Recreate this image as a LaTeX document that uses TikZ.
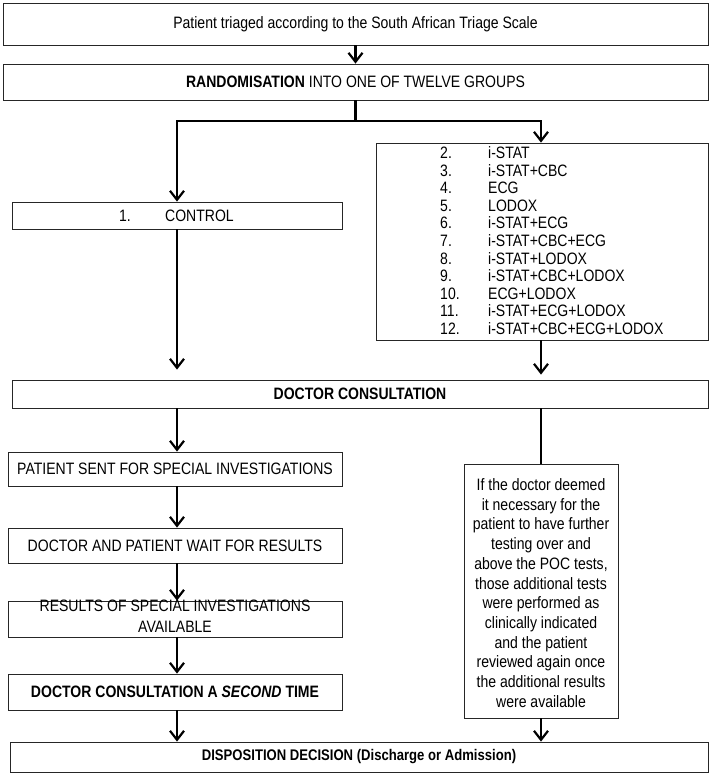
\documentclass[tikz,border=0pt]{standalone}
\usepackage{fontspec}
\setmainfont{Liberation Sans}[FakeStretch=0.85]
\usetikzlibrary{arrows.meta}
\begin{document}
\begin{tikzpicture}[x=1pt,y=-1pt,
  box/.style={draw=black!85, line width=0.8pt, inner sep=0pt, align=center},
  arr/.style={line width=2.4pt, -{Straight Barb[length=9pt,width=14pt,line width=2.2pt]}},
  ln/.style={line width=2.4pt},
  font=\fontsize{16.5}{19}\selectfont]
\useasboundingbox (0,0) rectangle (711,778);

\node[box, minimum width=705pt, minimum height=42pt] (triage) at (355.5,24) {Patient triaged according to the South African Triage Scale};
\node[box, minimum width=705pt, minimum height=36pt] (rand) at (355.5,82) {\textbf{RANDOMISATION} INTO ONE OF TWELVE GROUPS};
\node[box, minimum width=330pt, minimum height=27pt] (ctrl) at (177,215.5) {};
\node[anchor=base west, inner sep=0pt] (ctrlnum) at (119,221.5) {1.};
\node[anchor=base west, inner sep=0pt] (ctrltxt) at (165,221.5) {CONTROL};
\node[box, minimum width=332pt, minimum height=197pt] (list) at (542,241.5) {};
\node[inner sep=0pt, anchor=north west] (listtxt) at (440,146) {\fontsize{16.5}{17.6}\selectfont
  \begin{tabular}{@{}p{48pt}@{}l@{}}
  2. & i-STAT\\
  3. & i-STAT+CBC\\
  4. & ECG\\
  5. & LODOX\\
  6. & i-STAT+ECG\\
  7. & i-STAT+CBC+ECG\\
  8. & i-STAT+LODOX\\
  9. & i-STAT+CBC+LODOX\\
  10. & ECG+LODOX\\
  11. & i-STAT+ECG+LODOX\\
  12. & i-STAT+CBC+ECG+LODOX
  \end{tabular}};
\node[box, minimum width=696pt, minimum height=28pt] (consult) at (360,394) {\textbf{DOCTOR CONSULTATION}};
\node[box, minimum width=334pt, minimum height=34pt] (sent) at (175,469) {PATIENT SENT FOR SPECIAL INVESTIGATIONS};
\node[box, minimum width=334pt, minimum height=35pt] (wait) at (175,545.5) {DOCTOR AND PATIENT WAIT FOR RESULTS};
\node[box, minimum width=334pt, minimum height=36pt] (results) at (175,619) {};
\node[align=center, inner sep=0pt, font=\fontsize{16.5}{21}\selectfont] (restxt) at (175,616) {RESULTS OF SPECIAL INVESTIGATIONS\\AVAILABLE};
\node[box, minimum width=334pt, minimum height=36pt] (second) at (175,692) {\textbf{DOCTOR CONSULTATION A \textit{SECOND} TIME}};
\node[box, minimum width=698pt, minimum height=30pt, font=\fontsize{15.4}{18}\selectfont] (dispo) at (359,757) {\textbf{DISPOSITION DECISION (Discharge or Admission)}};
\node[box, minimum width=154pt, minimum height=254pt] (note) at (541,591) {};
\node[align=center, inner sep=0pt, font=\fontsize{16.5}{19.7}\selectfont] (notetxt) at (541,593) {If the doctor deemed\\it necessary for the\\patient to have further\\testing over and\\above the POC tests,\\those additional tests\\were performed as\\clinically indicated\\and the patient\\reviewed again once\\the additional results\\were available};

\coordinate (sl) at (177,121);
\coordinate (sr) at (541,121);
\draw[arr] (triage.south) -- (rand.north);
\draw[arr] (rand.south) |- (sl) -- (ctrl.north -| sl);
\draw[arr] (rand.south) |- (sr) -- (list.north -| sr);
\draw[arr, shorten >=10pt] (ctrl.south) -- (consult.north -| ctrl.south);
\draw[arr, shorten >=5pt] (list.south -| sr) -- (consult.north -| sr);
\draw[arr] (consult.south -| sl) -- (sent.north -| sl);
\draw[ln] (consult.south -| sr) -- (note.north -| sr);
\draw[arr] (sent.south -| sl) -- (wait.north -| sl);
\draw[arr] (wait.south -| sl) -- (results.north -| sl);
\draw[arr] (results.south -| sl) -- (second.north -| sl);
\draw[arr] (second.south -| sl) -- (dispo.north -| sl);
\draw[arr] (note.south -| sr) -- (dispo.north -| sr);
\end{tikzpicture}
\end{document}
